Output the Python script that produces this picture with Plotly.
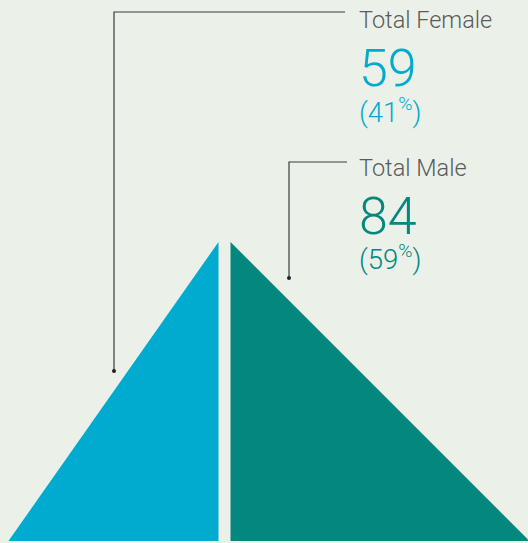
import plotly.graph_objects as go

# ---- data ----
categories = ["Total Female", "Total Male"]
values = [59, 84]
percent_labels = ["41", "59"]

# ---- style / layout constants ----
W, H = 528, 543
BG = "#ebf1e8"
COLORS = ["#00abcf", "#03877e"]
TEXT_GREY = "#5a5a5a"
LINE = "#3a3a3a"
PX_PER_UNIT = 3.56
CENTER_PX = 224.5
HALF_GAP = 6 / PX_PER_UNIT
APEX_PX = 242
BASE_PX = 541

xmin = -CENTER_PX / PX_PER_UNIT
xmax = (W - CENTER_PX) / PX_PER_UNIT


def X(px):
    return px / PX_PER_UNIT + xmin


def Y(py):
    return H - py


fig = go.Figure()

# triangles built from values (base width proportional to value)
left_v, right_v = values
fig.add_trace(go.Scatter(
    x=[-HALF_GAP, -HALF_GAP, -HALF_GAP - left_v, -HALF_GAP],
    y=[Y(APEX_PX), Y(BASE_PX), Y(BASE_PX), Y(APEX_PX)],
    fill="toself", fillcolor=COLORS[0], mode="lines",
    line=dict(width=0, color=COLORS[0]), hoverinfo="skip", showlegend=False))
fig.add_trace(go.Scatter(
    x=[HALF_GAP, HALF_GAP, HALF_GAP + right_v, HALF_GAP],
    y=[Y(APEX_PX), Y(BASE_PX), Y(BASE_PX), Y(APEX_PX)],
    fill="toself", fillcolor=COLORS[1], mode="lines",
    line=dict(width=0, color=COLORS[1]), hoverinfo="skip", showlegend=False))

# leader lines
leaders = [
    dict(dot=(114, 371), corner_y=12, end_x=345),
    dict(dot=(289, 278), corner_y=162, end_x=347),
]
for ld in leaders:
    dx, dy = ld["dot"]
    fig.add_trace(go.Scatter(
        x=[X(dx), X(dx), X(ld["end_x"])],
        y=[Y(dy), Y(ld["corner_y"]), Y(ld["corner_y"])],
        mode="lines", line=dict(color=LINE, width=1.2),
        hoverinfo="skip", showlegend=False))
    fig.add_trace(go.Scatter(
        x=[X(dx)], y=[Y(dy)], mode="markers",
        marker=dict(color="#222222", size=4),
        hoverinfo="skip", showlegend=False))

# text blocks
FONT = "Roboto, Arial, sans-serif"
blocks = [
    dict(label_y=20, num_y=68, pct_y=110),
    dict(label_y=168, num_y=216, pct_y=257),
]
TEXT_X = 357
for i, b in enumerate(blocks):
    fig.add_annotation(x=X(TEXT_X), y=Y(b["label_y"]), text=categories[i],
                       showarrow=False, xanchor="left", yanchor="middle",
                       font=dict(family=FONT, size=23.5, color=TEXT_GREY, weight=300))
    fig.add_annotation(x=X(TEXT_X), y=Y(b["num_y"]), text=str(values[i]),
                       showarrow=False, xanchor="left", yanchor="middle",
                       font=dict(family=FONT, size=52, color=COLORS[i], weight=300))
    fig.add_annotation(x=X(TEXT_X), y=Y(b["pct_y"]),
                       text=f"({percent_labels[i]}<sup>%</sup>)",
                       showarrow=False, xanchor="left", yanchor="middle",
                       font=dict(family=FONT, size=27.5, color=COLORS[i], weight=300))

fig.update_layout(
    width=W, height=H,
    margin=dict(l=0, r=0, t=0, b=0),
    paper_bgcolor=BG, plot_bgcolor=BG,
    xaxis=dict(range=[xmin, xmax], visible=False, fixedrange=True),
    yaxis=dict(range=[0, H], visible=False, fixedrange=True),
)

fig.write_html("out.html", config={"displayModeBar": False},
               post_script="document.body.style.margin='0';document.body.style.background='%s';" % BG)
